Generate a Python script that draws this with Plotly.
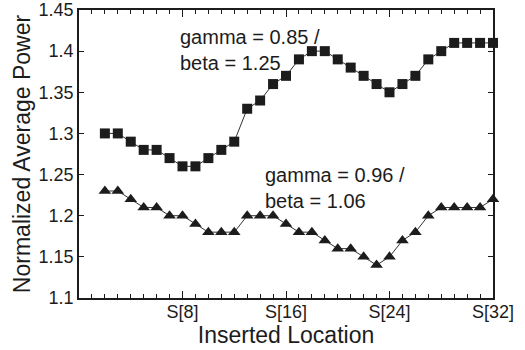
import plotly.graph_objects as go

locations = [2, 3, 4, 5, 6, 7, 8, 9, 10, 11, 12, 13, 14, 15, 16, 17,
             18, 19, 20, 21, 22, 23, 24, 25, 26, 27, 28, 29, 30, 31, 32]
power_085 = [1.30, 1.30, 1.29, 1.28, 1.28, 1.27, 1.26, 1.26, 1.27, 1.28, 1.29,
             1.33, 1.34, 1.36, 1.37, 1.39, 1.40, 1.40, 1.39, 1.38, 1.37, 1.36,
             1.35, 1.36, 1.37, 1.39, 1.40, 1.41, 1.41, 1.41, 1.41]
power_096 = [1.23, 1.23, 1.22, 1.21, 1.21, 1.20, 1.20, 1.19, 1.18, 1.18, 1.18,
             1.20, 1.20, 1.20, 1.19, 1.18, 1.18, 1.17, 1.16, 1.16, 1.15, 1.14,
             1.15, 1.17, 1.18, 1.20, 1.21, 1.21, 1.21, 1.21, 1.22]
x_tickvals = [8, 16, 24, 32]
x_ticktext = ["S[8]", "S[16]", "S[24]", "S[32]"]
y_tickvals = [1.1, 1.15, 1.2, 1.25, 1.3, 1.35, 1.4, 1.45]
y_ticktext = ["1.1", "1.15", "1.2", "1.25", "1.3", "1.35", "1.4", "1.45"]
label_085 = "gamma = 0.85 /<br>beta = 1.25"
label_096 = "gamma = 0.96 /<br>beta = 1.06"

FONT = "Liberation Sans, Arial, Helvetica, sans-serif"
INK = "#1c1c1c"

fig = go.Figure()
# invisible helper so the mirrored top axis (with its minor ticks) is drawn
fig.add_trace(go.Scatter(
    x=locations, y=power_085, xaxis="x2", yaxis="y", mode="markers",
    marker=dict(opacity=0), hoverinfo="skip", showlegend=False))
fig.add_trace(go.Scatter(
    x=locations, y=power_085, mode="lines+markers",
    line=dict(color="#333333", width=1),
    marker=dict(symbol="square", size=10, color=INK),
    cliponaxis=False, showlegend=False))
fig.add_trace(go.Scatter(
    x=locations, y=power_096, mode="lines+markers",
    line=dict(color="#333333", width=1),
    marker=dict(symbol="triangle-up", size=11, color=INK),
    cliponaxis=False, showlegend=False))

fig.add_annotation(x=7.65, y=1.402, text=label_085, showarrow=False,
                   xanchor="left", yanchor="middle", align="left",
                   font=dict(family=FONT, size=20, color=INK))
fig.add_annotation(x=14.2, y=1.234, text=label_096, showarrow=False,
                   xanchor="left", yanchor="middle", align="left",
                   font=dict(family=FONT, size=20, color=INK))

minor_ticks = dict(tickmode="linear", tick0=0, dtick=1, ticks="inside",
                   ticklen=4, tickwidth=1, tickcolor=INK)

fig.update_layout(
    width=525, height=350,
    margin=dict(l=79, r=32, t=10, b=52),
    paper_bgcolor="white", plot_bgcolor="white",
    xaxis=dict(
        range=[0, 32], tickmode="array", tickvals=x_tickvals, ticktext=x_ticktext,
        ticks="inside", ticklen=7, tickwidth=1, tickcolor=INK,
        minor=minor_ticks,
        showline=True, linecolor=INK, linewidth=1.5, mirror=True,
        showgrid=False, zeroline=False, automargin=False,
        ticklabelstandoff=-3,
        tickfont=dict(family=FONT, size=18, color=INK),
        title=dict(text="Inserted Location", standoff=2,
                   font=dict(family=FONT, size=23, color=INK))),
    xaxis2=dict(overlaying="x", anchor="y", side="top", range=[0, 32],
                tickmode="array", tickvals=x_tickvals, showticklabels=False,
                ticks="inside", ticklen=7, tickwidth=1, tickcolor=INK,
                minor=minor_ticks, showgrid=False, zeroline=False,
                showline=False, automargin=False),
    yaxis=dict(
        range=[1.1, 1.45], tickmode="array", tickvals=y_tickvals, ticktext=y_ticktext,
        ticks="inside", ticklen=5, tickwidth=1, tickcolor=INK,
        showline=True, linecolor=INK, linewidth=1.5, mirror="ticks",
        showgrid=False, zeroline=False, automargin=False,
        ticklabelstandoff=0,
        tickfont=dict(family=FONT, size=18, color=INK),
        title=dict(text="Normalized Average Power", standoff=2,
                   font=dict(family=FONT, size=23, color=INK))),
)
fig.write_html("out.html", config={"displayModeBar": False},
               post_script="document.body.style.margin='0px';document.body.style.overflow='hidden';")
